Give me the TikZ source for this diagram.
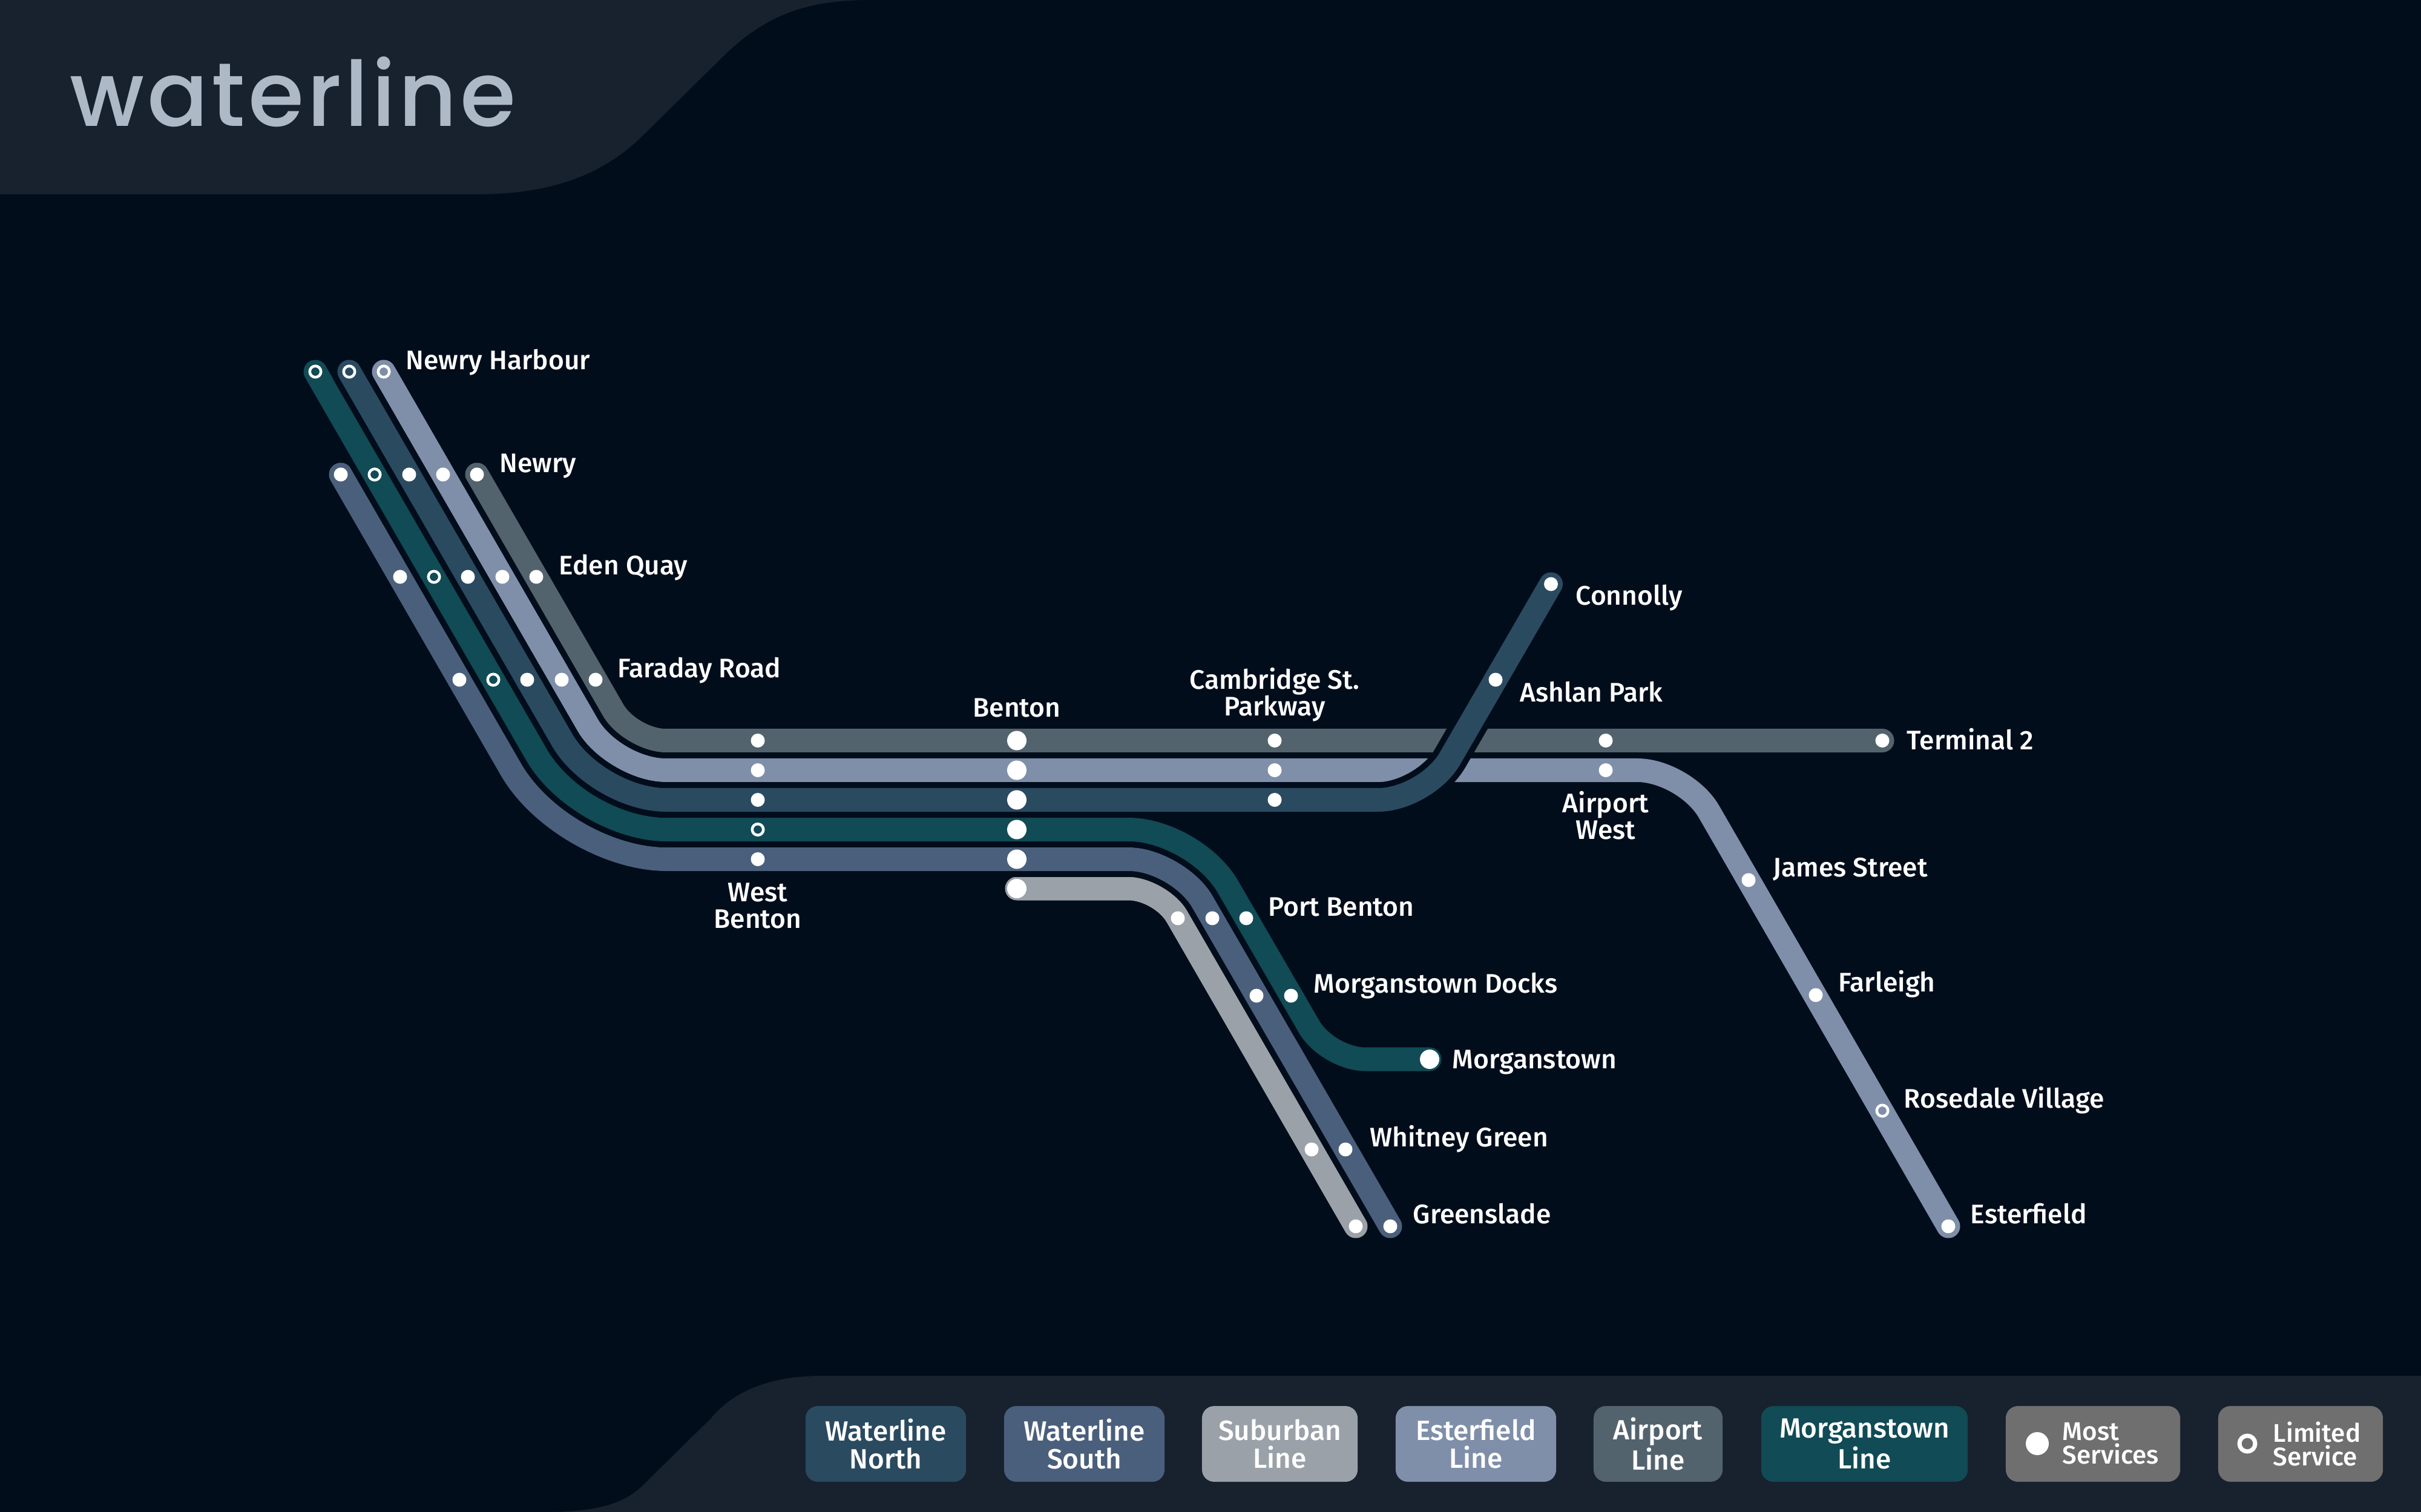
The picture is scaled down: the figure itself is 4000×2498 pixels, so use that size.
\documentclass[tikz,border=0pt]{standalone}
\usepackage{fontspec}
\usepackage{xcolor}
\usepackage{tikz}
\usetikzlibrary{backgrounds}
\setmainfont{Fira Sans}[UprightFont=* Medium]
\newfontfamily\titlefont{Poppins}[UprightFont=* Medium, LetterSpace=3.4]

\definecolor{bgcol}{HTML}{020D1B}
\definecolor{panelcol}{HTML}{18212E}
\definecolor{northcol}{HTML}{2A4A60}
\definecolor{southcol}{HTML}{4A5F7B}
\definecolor{subcol}{HTML}{9BA1A8}
\definecolor{estcol}{HTML}{7F8FA9}
\definecolor{aircol}{HTML}{53636D}
\definecolor{morcol}{HTML}{114B55}
\definecolor{greycol}{HTML}{6F6F6F}
\definecolor{titlecol}{HTML}{AEB9C7}

\begin{document}
\begin{tikzpicture}[
  x=0.01cm, y=-0.01cm,
  railway/.style={line width=0.39cm, line cap=round,
                  preaction={draw=bgcol, line width=0.586cm, line cap=round}},
  north/.style={railway, draw=northcol},
  south/.style={railway, draw=southcol},
  suburb/.style={railway, draw=subcol},
  ester/.style={railway, draw=estcol},
  airport/.style={railway, draw=aircol},
  morgan/.style={railway, draw=morcol},
  most/.style={circle, fill=white, inner sep=0pt, minimum size=0.23cm},
  hub/.style={most, minimum size=0.32cm},
  limited/.style={circle, draw=white, line width=0.045cm, inner sep=0pt, minimum size=0.185cm},
  stn/.style={text=white, font=\fontsize{12.6}{12.5}\selectfont, inner sep=0pt},
  stnleft/.style={stn, anchor=base west},
  stnmid/.style={stn, anchor=base, align=center},
  key/.style={rounded corners=0.2cm, minimum height=1.25cm, inner sep=0pt, text=white,
              align=center, font=\fontsize{13.05}{13.1}\selectfont},
  keysmall/.style={text=white, anchor=west, align=left, inner sep=0pt,
                   font=\fontsize{12}{11.1}\selectfont}
]
  \useasboundingbox (0,0) rectangle (4000,2498);

  %--- Stations on the diagonal ---
  \node[limited] (nhMor) at (521,614) {};
  \node[limited] (nhNor) at (577,614) {};
  \node[limited] (nhEst) at (634,614) {};

  \node[most]    (nwSou) at (563,784) {};
  \node[limited] (nwMor) at (619,784) {};
  \node[most]    (nwNor) at (676,784) {};
  \node[most]    (nwEst) at (732,784) {};
  \node[most]    (nwAir) at (788,784) {};

  \node[most]    (edSou) at (661,953) {};
  \node[limited] (edMor) at (717,953) {};
  \node[most]    (edNor) at (773,953) {};
  \node[most]    (edEst) at (830,953) {};
  \node[most]    (edAir) at (886,953) {};

  \node[most]    (faSou) at (759,1123) {};
  \node[limited] (faMor) at (815,1123) {};
  \node[most]    (faNor) at (871,1123) {};
  \node[most]    (faEst) at (928,1123) {};
  \node[most]    (faAir) at (984,1123) {};

  %--- Stations on the trunk ---
  \node[most]    (wbAir) at (1252,1223.5) {};
  \node[most]    (wbEst) at (1252,1272.5) {};
  \node[most]    (wbNor) at (1252,1321.5) {};
  \node[limited] (wbMor) at (1252,1370.5) {};
  \node[most]    (wbSou) at (1252,1419.5) {};

  \node[hub] (beAir) at (1680,1223.5) {};
  \node[hub] (beEst) at (1680,1272.5) {};
  \node[hub] (beNor) at (1680,1321.5) {};
  \node[hub] (beMor) at (1680,1370.5) {};
  \node[hub] (beSou) at (1680,1419.5) {};
  \node[hub] (beSub) at (1680,1468) {};

  \node[most] (caAir) at (2106,1223.5) {};
  \node[most] (caEst) at (2106,1272.5) {};
  \node[most] (caNor) at (2106,1321.5) {};

  %--- Stations to the east ---
  \node[most] (asNor) at (2471,1123) {};
  \node[most] (coNor) at (2562.5,965) {};
  \node[most] (awAir) at (2653,1223.5) {};
  \node[most] (awEst) at (2653,1272.5) {};
  \node[most] (teAir) at (3110,1223.5) {};
  \node[most] (jaEst) at (2889,1454) {};
  \node[most] (flEst) at (3000,1644) {};
  \node[limited] (roEst) at (3110,1835) {};
  \node[most] (esEst) at (3219,2026) {};

  %--- Stations to the south ---
  \node[most] (pbSub) at (1946,1517) {};
  \node[most] (pbSou) at (2003,1517) {};
  \node[most] (pbMor) at (2059,1517) {};
  \node[most] (mdSou) at (2076,1645) {};
  \node[most] (mdMor) at (2133,1645) {};
  \node[hub]  (msMor) at (2362,1750) {};
  \node[most] (wgSub) at (2167,1899) {};
  \node[most] (wgSou) at (2223,1899) {};
  \node[most] (grSub) at (2240,2026) {};
  \node[most] (grSou) at (2297,2026) {};

  %--- Labels ---
  \node[stnleft] (lNewH) at (670,611) {Newry Harbour};
  \node[stnleft] (lNewr) at (825,781) {Newry};
  \node[stnleft] (lEden) at (923,950) {Eden Quay};
  \node[stnleft] (lFara) at (1020,1119) {Faraday Road};
  \node[stnmid]  (lWest) at (1252,1533) {West\\Benton};
  \node[stnmid]  (lBent) at (1680,1184) {Benton};
  \node[stnmid]  (lCamb) at (2106,1182) {Cambridge St.\\Parkway};
  \node[stnleft] (lConn) at (2603,1000) {Connolly};
  \node[stnleft] (lAshl) at (2511,1159) {Ashlan Park};
  \node[stnleft] (lTerm) at (3150,1238) {Terminal 2};
  \node[stnmid]  (lAirW) at (2653,1386) {Airport\\West};
  \node[stnleft] (lJame) at (2929,1448) {James Street};
  \node[stnleft] (lFarl) at (3037,1638) {Farleigh};
  \node[stnleft] (lRose) at (3145,1830) {Rosedale Village};
  \node[stnleft] (lEste) at (3255,2021) {Esterfield};
  \node[stnleft] (lPort) at (2095,1513) {Port Benton};
  \node[stnleft] (lDock) at (2170,1640) {Morganstown Docks};
  \node[stnleft] (lMorg) at (2399,1765) {Morganstown};
  \node[stnleft] (lWhit) at (2263,1894) {Whitney Green};
  \node[stnleft] (lGree) at (2334,2021) {Greenslade};

  %--- Tracks, behind the stations ---
  \begin{scope}[on background layer]
    \fill[bgcol] (0,0) rectangle (4000,2498);
    \fill[panelcol] (0,0) -- (0,321) -- (786,321)
      .. controls (900,321) and (990,295) .. (1062,224) -- (1196,92)
      .. controls (1270,20) and (1340,0) .. (1440,0) -- cycle;

    \coordinate (cAirW) at (1042,1223.5);
    \coordinate (cEstW) at (1014,1272.5);
    \coordinate (cEstE) at (2784,1272.5);
    \coordinate (cMorW) at (958,1370.5);
    \coordinate (cMorE) at (1974,1370.5);
    \coordinate (cMorS) at (2194,1750);
    \coordinate (cSouW) at (930,1419.5);
    \coordinate (cSouE) at (1946,1419.5);
    \coordinate (cSubE) at (1918,1468);
    \coordinate (cNorW) at (986,1321.5);
    \coordinate (cNorE) at (2356,1321.5);

    \draw[airport, rounded corners=0.58cm] (nwAir.center) -- (cAirW) -- (teAir.center);
    \draw[ester] (nhEst.center) [rounded corners=0.86cm] -- (cEstW) [rounded corners=0.79cm] -- (cEstE) -- (esEst.center);
    \draw[suburb, rounded corners=0.53cm] (beSub.center) -- (cSubE) -- (grSub.center);
    \draw[south] (nwSou.center) [rounded corners=1.71cm] -- (cSouW) [rounded corners=0.81cm] -- (cSouE) -- (grSou.center);
    \draw[morgan] (nhMor.center) [rounded corners=1.43cm] -- (cMorW) [rounded corners=1.09cm] -- (cMorE) [rounded corners=0.62cm] -- (cMorS) -- (msMor.center);
    \draw[north] (nhNor.center) [rounded corners=1.14cm] -- (cNorW) [rounded corners=0.79cm] -- (cNorE) -- (coNor.center);
  \end{scope}

  %--- Title ---
  \node[text=titlecol, anchor=base west, inner sep=0pt, font=\titlefont\fontsize{42.4}{42.4}\selectfont] (title) at (115,209) {waterline};

  %--- Legend ---
  \fill[panelcol] (900,2498)
    .. controls (1000,2498) and (1040,2480) .. (1073,2443) -- (1175,2343)
    .. controls (1210,2300) and (1270,2273) .. (1359,2273)
    -- (4000,2273) -- (4000,2498) -- cycle;

  \node[key, fill=northcol, minimum width=2.65cm] (kNorth) at (1463.5,2385.5) {Waterline\\North};
  \node[key, fill=southcol, minimum width=2.65cm] (kSouth) at (1791.5,2385.5) {Waterline\\South};
  \node[key, fill=subcol, minimum width=2.57cm] (kSub) at (2114.5,2385.5) {Suburban\\Line};
  \node[key, fill=estcol, minimum width=2.65cm] (kEst) at (2438.5,2385.5) {Esterfield\\Line};
  \node[key, fill=aircol, minimum width=2.13cm] (kAir) at (2739.5,2385.5) {Airport\\Line};
  \node[key, fill=morcol, minimum width=3.41cm] (kMor) at (3080.5,2385.5) {Morganstown\\Line};
  \node[key, fill=greycol, minimum width=2.88cm] (kMost) at (3458,2385.5) {};
  \node[key, fill=greycol, minimum width=2.72cm] (kLim) at (3801,2385.5) {};

  \node[most, minimum size=0.38cm] (kMostDot) at (3366,2385) {};
  \node[keysmall] (kMostTxt) at (3407,2385) {Most\\Services};
  \node[limited, line width=0.07cm, minimum size=0.26cm] (kLimDot) at (3713,2385) {};
  \node[keysmall] (kLimTxt) at (3755,2385) {Limited\\Service};
\end{tikzpicture}
\end{document}
